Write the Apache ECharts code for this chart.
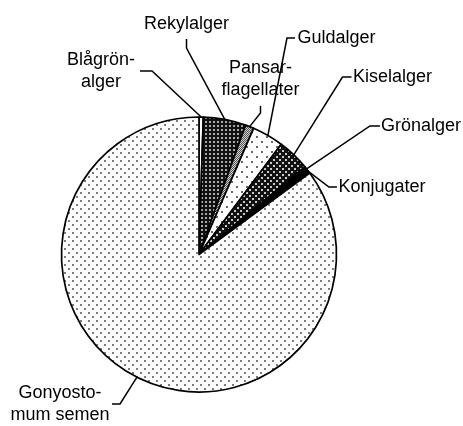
<!DOCTYPE html>
<html>
<head>
<meta charset="utf-8">
<script src="https://cdn.jsdelivr.net/npm/echarts@6/dist/echarts.min.js"></script>
<style>
  html, body { margin: 0; padding: 0; background: #fff; }
  #chart { width: 463px; height: 426px; }
</style>
</head>
<body>
<div id="chart"></div>
<script>
// Algal groups and their share of the biomass (%)
const categories = ['Blågrön-\nalger', 'Rekylalger', 'Pansar-\nflagellater', 'Guldalger', 'Kiselalger', 'Grönalger', 'Konjugater', 'Gonyosto-\nmum semen'];
const shares = [0.5, 5.0, 1.0, 3.7, 3.8, 0.6, 0.3, 85.1];

// Label placement: centre of each label and the side the leader line leaves from
const labelPlacement = [
  { x: 101, y: 71, side: 'right', gap: 5, len: 12 },
  { x: 186.5, y: 24, side: 'bottom', gap: 4, len: 9 },
  { x: 260.5, y: 79, side: 'bottom', gap: 5, len: 7 },
  { x: 336.5, y: 38, side: 'left', gap: 2.5, len: 8 },
  { x: 392.5, y: 77, side: 'left', gap: 1.5, len: 9 },
  { x: 421, y: 126, side: 'left', gap: 1, len: 10 },
  { x: 382, y: 187, side: 'left', gap: 1.5, len: 8 },
  { x: 60, y: 404, side: 'right', gap: 2.5, len: 8 }
];

// Small tiled fills in the style of monochrome print patterns
function tile(w, h, bg, fg, cells) {
  const c = document.createElement('canvas');
  c.width = w; c.height = h;
  const g = c.getContext('2d');
  g.fillStyle = bg; g.fillRect(0, 0, w, h);
  g.fillStyle = fg;
  cells.forEach(function (r) { g.fillRect(r[0], r[1], r[2], r[3]); });
  return { image: c, repeat: 'repeat' };
}

const fills = [
  '#ffffff',                                                         // Blågrönalger
  tile(4, 4, '#111111', '#a8a8a8', [[1, 1, 2, 2]]),                  // Rekylalger
  tile(2, 2, '#d0d0d0', '#555555', [[0, 0, 1, 1], [1, 1, 1, 1]]),    // Pansarflagellater
  tile(10, 10, '#ffffff', '#666666', [[1, 1, 2, 2], [6, 6, 2, 2]]),  // Guldalger
  tile(6, 6, '#111111', '#c8c8c8', [[0, 0, 2, 2], [3, 3, 2, 2]]),    // Kiselalger
  '#000000',                                                         // Grönalger
  '#000000',                                                         // Konjugater
  tile(8, 8, '#ffffff', '#7c7c7c', [[0, 0, 2, 2], [4, 4, 2, 2]])     // Gonyostomum semen
];

const chart = echarts.init(document.getElementById('chart'), null, { renderer: 'canvas' });

chart.setOption({
  animation: false,
  backgroundColor: '#ffffff',
  series: [{
    type: 'pie',
    center: [199, 254.5],
    radius: 137.5,
    startAngle: 90,
    clockwise: true,
    avoidLabelOverlap: false,
    silent: true,
    itemStyle: { borderColor: '#000000', borderWidth: 1.7 },
    label: {
      show: true,
      position: 'outside',
      color: '#000000',
      fontFamily: 'Liberation Sans, Arial, sans-serif',
      fontSize: 18,
      lineHeight: 22,
      align: 'center',
      formatter: function (p) { return p.name; }
    },
    labelLine: {
      show: true,
      length: 10,
      length2: 10,
      lineStyle: { color: '#000000', width: 1.5 }
    },
    labelLayout: function (params) {
      const pl = labelPlacement[params.dataIndex];
      const w = params.labelRect.width;
      const h = params.labelRect.height;
      let end, bend;
      if (pl.side === 'right') {
        end = [pl.x + w / 2 + pl.gap, pl.y];
        bend = [end[0] + pl.len, pl.y];
      } else if (pl.side === 'left') {
        end = [pl.x - w / 2 - pl.gap, pl.y];
        bend = [end[0] - pl.len, pl.y];
      } else {
        end = [pl.x, pl.y + h / 2 + pl.gap];
        bend = [pl.x, end[1] + pl.len];
      }
      const start = params.labelLinePoints ? params.labelLinePoints[0] : bend;
      return {
        x: pl.x,
        y: pl.y,
        align: 'center',
        verticalAlign: 'middle',
        hideOverlap: false,
        labelLinePoints: [start, bend, end]
      };
    },
    data: categories.map(function (name, i) {
      return { name: name, value: shares[i], itemStyle: { color: fills[i] } };
    })
  }]
});
</script>
</body>
</html>
